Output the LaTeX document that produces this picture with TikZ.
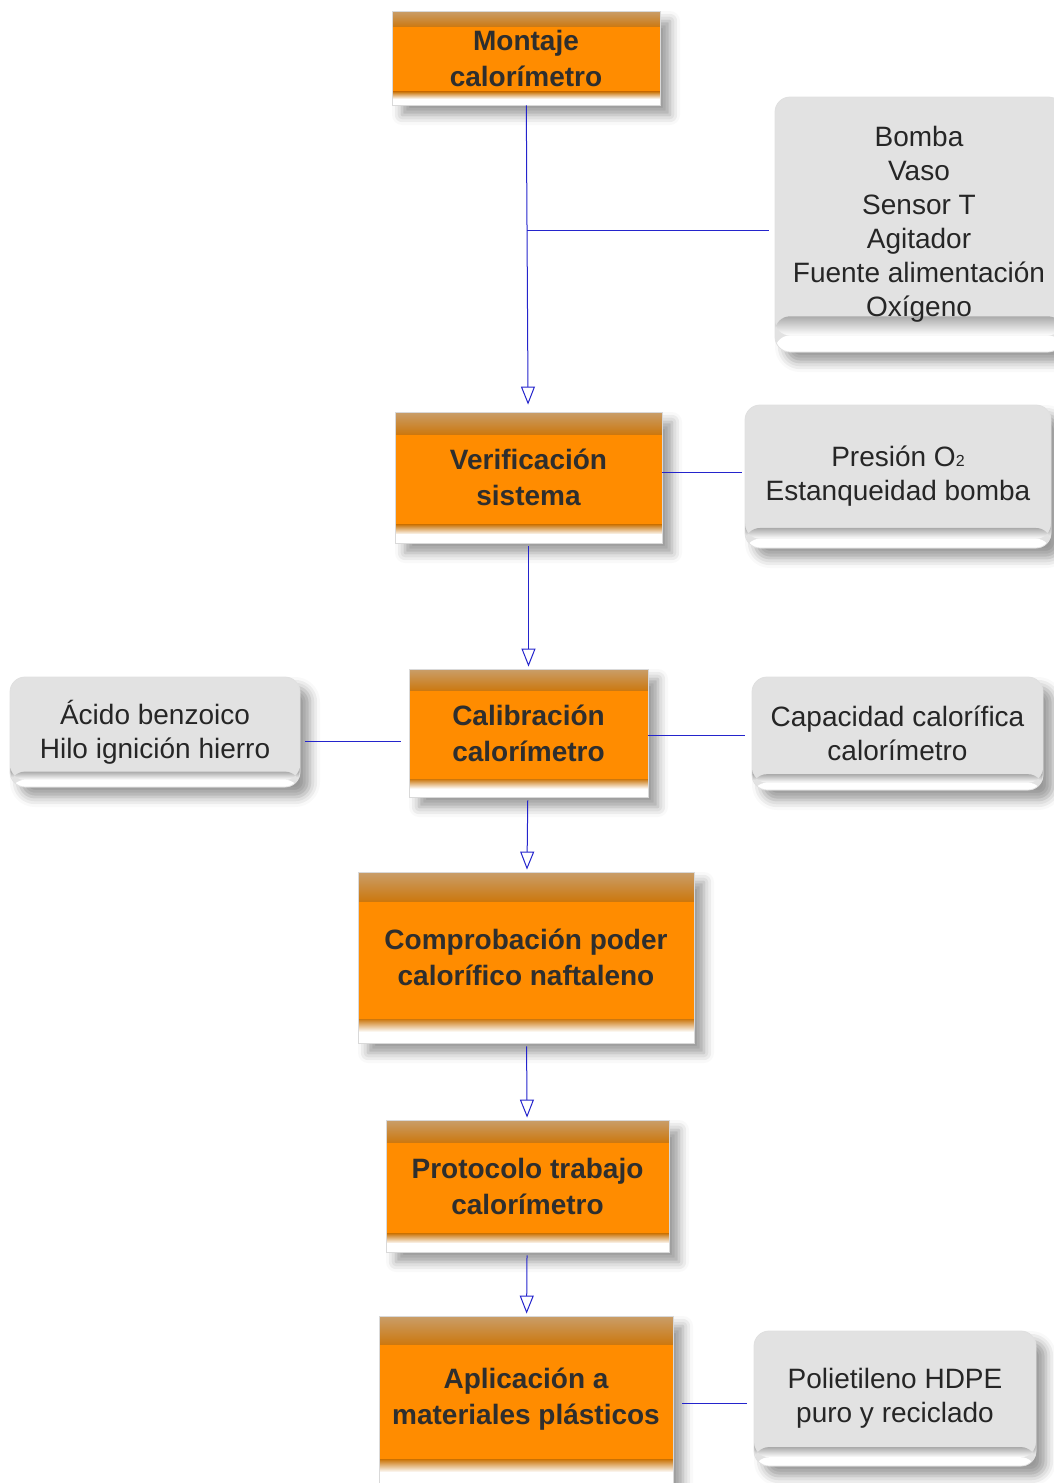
\documentclass[tikz,border=0pt]{standalone}
\usepackage{fontspec}
\setmainfont{Liberation Sans}
\usetikzlibrary{calc,arrows.meta,shadows.blur}

\definecolor{naranja}{HTML}{FF8C00}
\definecolor{tostado}{HTML}{C99E6A}
\definecolor{pardo}{HTML}{CC780F}
\definecolor{tinta}{HTML}{2E2E2E}
\definecolor{grisclaro}{HTML}{E2E2E2}
\definecolor{grisoscuro}{HTML}{ABABAB}
\definecolor{azul}{HTML}{2424CC}

\tikzset{
  bandas/.style n args={3}{path picture={
    \coordinate (pp-nw) at (path picture bounding box.north west);
    \coordinate (pp-se) at (path picture bounding box.south east);
    \coordinate (pp-t) at ($(pp-nw)!0.17!(pp-se)$);
    \coordinate (pp-b) at ($(pp-nw)!0.86!(pp-se)$);
    \coordinate (pp-w) at ($(pp-nw)!0.935!(pp-se)$);
    \shade[top color=#1, bottom color=#2] (pp-nw) rectangle (pp-t -| pp-se);
    \shade[top color=#3, bottom color=white] (pp-b -| pp-nw) rectangle (pp-w -| pp-se);
    \fill[white] (pp-w -| pp-nw) rectangle (pp-se);
  }},
  sombra/.style={blur shadow={shadow xshift=5pt, shadow yshift=-5pt,
    shadow blur radius=5pt, shadow opacity=40}},
  paso/.style={rectangle, fill=naranja, draw=black!15, sombra,
    bandas={tostado}{pardo}{pardo}, text=tinta, align=center,
    font=\bfseries\fontsize{14}{18}\selectfont},
  nota/.style={rectangle, rounded corners=7.5pt, fill=grisclaro, draw=black!12,
    sombra, bandas={grisclaro}{grisclaro}{grisoscuro}, text=black!85, align=center,
    font=\fontsize{14}{17}\selectfont},
  enlace/.style={draw=azul, line width=0.5pt},
  flecha/.style={enlace, -{Triangle[open, length=9pt, width=7pt]}}
}
\newcommand{\subdos}{{\fontsize{8}{8}\selectfont 2}}

\begin{document}
\begin{tikzpicture}[x=0.5pt,y=-0.5pt]
  \useasboundingbox (0,0) rectangle (1054,1483);

  % pasos
  \node[paso, minimum width=134pt, minimum height=47pt] (montaje) at (526,58)
    {Montaje\\calorímetro};
  \node[paso, minimum width=133.5pt, minimum height=65.5pt] (verif) at (528.5,477.5)
    {Verificación\\sistema};
  \node[paso, minimum width=119.5pt, minimum height=64pt] (calib) at (528.5,733)
    {Calibración\\calorímetro};
  \node[paso, minimum width=168pt, minimum height=85.5pt] (comprob) at (526,957.5)
    {Comprobación poder\\calorífico naftaleno};
  \node[paso, minimum width=141.5pt, minimum height=66pt] (protocolo) at (527.5,1186)
    {Protocolo trabajo\\calorímetro};
  \node[paso, minimum width=147pt, minimum height=83.5pt] (aplic) at (526,1399.5)
    {Aplicación a\\materiales plásticos};

  % notas
  \node[nota, minimum width=144pt, minimum height=127.5pt] (bomba) at (919,224.5)
    {Bomba\\Vaso\\Sensor T\\Agitador\\Fuente alimentación\\Oxígeno};
  \node[nota, minimum width=153pt, minimum height=71.5pt] (presion) at (898,476.5)
    {Presión O\subdos\\Estanqueidad bomba};
  \node[nota, minimum width=145pt, minimum height=55pt] (acido) at (155,732)
    {Ácido benzoico\\Hilo ignición hierro};
  \node[nota, minimum width=145.5pt, minimum height=56.5pt] (capac) at (897.5,733.5)
    {Capacidad calorífica\\calorímetro};
  \node[nota, minimum width=141pt, minimum height=67.5pt] (polie) at (895,1398.5)
    {Polietileno HDPE\\puro y reciclado};

  % conectores
  \draw[flecha, shorten >=3.5pt] (montaje) -- (verif) coordinate[pos=0.41] (j1);
  \draw[enlace, shorten >=3pt] (j1) -- (j1 -| bomba.west);
  \foreach \a/\b in {verif/calib, calib/comprob, comprob/protocolo, protocolo/aplic}
    \draw[flecha, shorten <=1.5pt, shorten >=1pt] (\a) -- (\b);
  \draw[enlace, shorten >=1.5pt] ([yshift=2.75pt]verif.east) -- ([yshift=2.75pt]verif.east -| presion.west);
  \draw[enlace, shorten <=2.5pt, shorten >=4pt] ([yshift=-4.5pt]acido.east) -- ([yshift=-4pt]calib.west);
  \draw[enlace, shorten >=3.5pt] ([yshift=-1pt]calib.east) -- ([yshift=-1pt]calib.east -| capac.west);
  \draw[enlace, shorten <=4.5pt, shorten >=3.5pt] ([yshift=-1.75pt]aplic.east) -- ([yshift=-1.75pt]aplic.east -| polie.west);
\end{tikzpicture}
\end{document}
